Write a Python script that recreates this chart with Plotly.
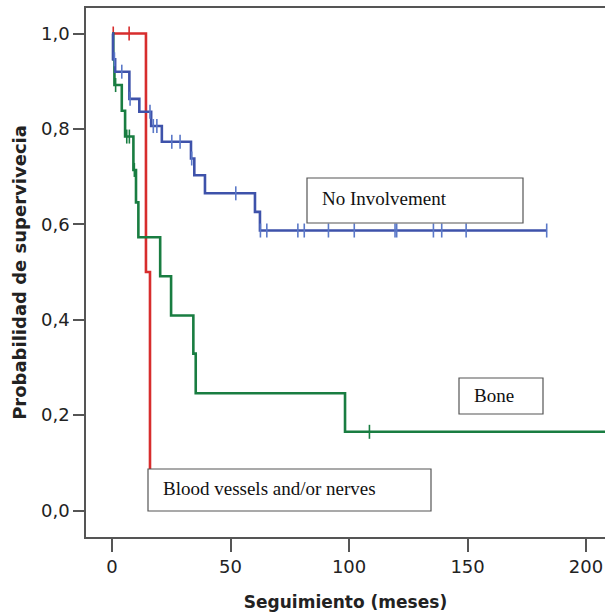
import plotly.graph_objects as go

# ---- data ----
# Blood vessels and/or nerves
red_times = [0, 14.3, 16.0]
red_surv = [1.0, 0.5, 0.0]
red_censor = [0.5, 7.2]

# No Involvement
blue_times = [0, 0.4, 1.3, 7.3, 11.5, 16.5, 21.0, 33.3, 34.7, 39.2, 60.3, 62.4, 183.4]
blue_surv = [1.0, 0.946, 0.92, 0.863, 0.836, 0.806, 0.773, 0.738, 0.703, 0.665, 0.626, 0.587, 0.587]
blue_censor = [1.0, 4.1, 7.6, 16.0, 17.4, 18.9, 25.2, 28.7, 33.6, 52.2, 62.6, 65.3, 78.4, 81.1,
               91.3, 102.2, 119.4, 120.1, 135.6, 139.1, 149.4, 183.4]

# Bone
green_times = [0, 0.5, 1.0, 4.1, 5.5, 9.0, 10.1, 11.1, 20.3, 24.9, 34.3, 35.3, 98.3, 212.0]
green_surv = [1.0, 0.946, 0.892, 0.838, 0.784, 0.714, 0.646, 0.573, 0.491, 0.409, 0.329, 0.246, 0.165, 0.165]
green_censor = [1.5, 6.2, 7.3, 9.4, 108.6]

y_ticks = [0.0, 0.2, 0.4, 0.6, 0.8, 1.0]
y_tick_labels = ["0,0", "0,2", "0,4", "0,6", "0,8", "1,0"]
x_ticks = [0, 50, 100, 150, 200]
x_tick_labels = ["0", "50", "100", "150", "200"]

labels = ["No Involvement", "Bone", "Blood vessels and/or nerves"]

BLUE = "rgb(62,82,170)"
BLUE_L = "rgb(90,120,200)"
GREEN = "rgb(25,125,65)"
RED = "rgb(215,45,45)"


def surv_at(times, surv, t):
    s = surv[0]
    for ti, si in zip(times, surv):
        if ti <= t:
            s = si
    return s


fig = go.Figure()
for times, surv, cens, col, ccol, name in [
    (red_times, red_surv, red_censor, RED, RED, labels[2]),
    (green_times, green_surv, green_censor, GREEN, GREEN, labels[1]),
    (blue_times, blue_surv, blue_censor, BLUE, BLUE_L, labels[0]),
]:
    fig.add_trace(go.Scatter(x=times, y=surv, mode="lines", line=dict(color=col, width=2.6, shape="hv"),
                             name=name, showlegend=False, hoverinfo="skip"))
    fig.add_trace(go.Scatter(x=cens, y=[surv_at(times, surv, c) for c in cens], mode="markers",
                             marker=dict(symbol="line-ns", size=10, line=dict(color=ccol, width=1.6)),
                             name=name + " censored", showlegend=False))

# pixel -> paper helpers (plot area: left 86, right 605, top 8, bottom 537)
L, R, T, B = 86, 605, 8, 537


def px(x):
    return (x - L) / (R - L)


def py(y):
    return (B - y) / (B - T)


boxes = [
    (labels[0], 307, 523, 178, 223, 320, 198),
    (labels[1], 459, 543, 378, 414, 472, 395),
    (labels[2], 148, 431, 469, 511, 161, 488),
]
for text, x0, x1, y0, y1, tx, ty in boxes:
    fig.add_shape(type="rect", xref="paper", yref="paper", x0=px(x0), x1=px(x1), y0=py(y1), y1=py(y0),
                  line=dict(color="#555", width=1.2), fillcolor="white", layer="above")
    fig.add_annotation(xref="paper", yref="paper", x=px(tx), y=py(ty), text=text, showarrow=False,
                       xanchor="left", yanchor="middle",
                       font=dict(family="Liberation Serif", size=19, color="#111"))

fig.update_layout(
    width=605, height=614,
    margin=dict(l=L, r=605 - R, t=T, b=614 - B),
    paper_bgcolor="white", plot_bgcolor="white",
    font=dict(family="DejaVu Sans", color="#222"),
    xaxis=dict(range=[-11.0, 208.0], tickvals=x_ticks, ticktext=x_tick_labels, automargin=False,
               showgrid=False, zeroline=False, showline=True, mirror=True, linecolor="#555", linewidth=1.5,
               ticks="outside", ticklen=13, tickwidth=1.5, tickcolor="#555",
               tickfont=dict(family="DejaVu Sans", size=18, color="#222"),
               title=dict(text="<b>Seguimiento (meses)</b>", standoff=20,
                          font=dict(family="DejaVu Sans", size=17, color="#222"))),
    yaxis=dict(range=[-0.0555, 1.0535], tickvals=y_ticks, ticktext=y_tick_labels, automargin=False,
               showgrid=False, zeroline=False, showline=True, mirror=False, linecolor="#555", linewidth=1.5,
               ticks="outside", ticklen=11, tickwidth=1.5, tickcolor="#555",
               tickfont=dict(family="DejaVu Sans", size=18, color="#222"),
               title=dict(text="<b>Probabilidad de supervivecia</b>", standoff=10,
                          font=dict(family="DejaVu Sans", size=18, color="#222"))),
)

fig.write_html("out.html", config={"displayModeBar": False},
               post_script="document.body.style.margin='0';document.body.style.overflow='hidden';")
